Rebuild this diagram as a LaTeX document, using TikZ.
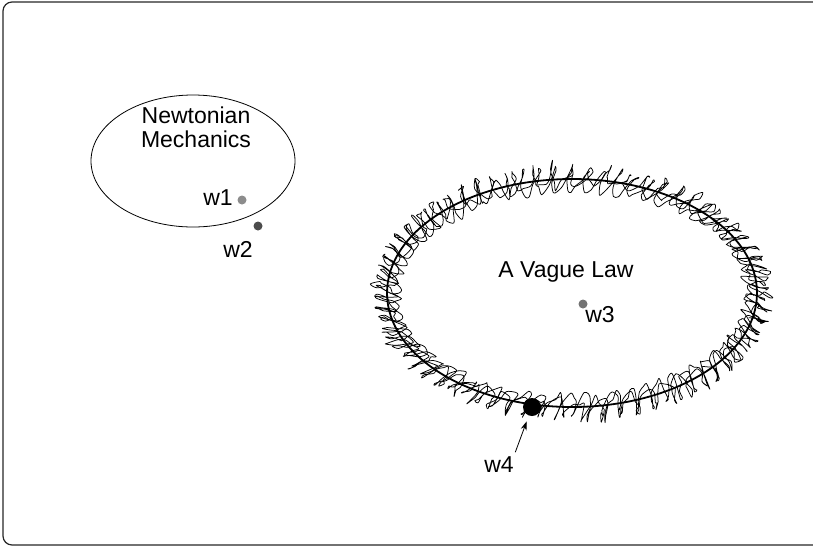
\documentclass[tikz,border=0pt]{standalone}
\usepackage{fontspec}
\setmainfont{Liberation Sans}
\usetikzlibrary{arrows.meta}

\begin{document}
\begin{tikzpicture}[x=1pt,y=-1pt,
    dot/.style={circle,inner sep=0,minimum size=9pt},
    lbl/.style={inner sep=0,anchor=base,font=\fontsize{23}{24}\selectfont},
    scribble/.style={line width=0.75pt,line join=round}]
  \def\cx {572}
  \def\cy {293}
  \def\rx {185}
  \def\ry {114}

  \useasboundingbox (0,0) rectangle (813,547);
  \draw[line width=1.2pt,black!85,rounded corners=9pt] (3,2) rectangle (822,545);

  % newtonian mechanics
  \draw[line width=0.8pt] (193,161) ellipse [x radius=102,y radius=66];
  \node[lbl,align=center] (newton) at (196,147) {Newtonian\\Mechanics};

  \node[dot,fill=black!45] (d1) at (242,200) {};
  \node[dot,fill=black!70] (d2) at (258,226) {};
  \node[lbl] (w1) at (218,205) {w1};
  \node[lbl] (w2) at (238,257) {w2};

  % the vague law and its scribbled boundary (\t in turns)
  \pgfmathsetseed{23}
  \draw[scribble] plot[smooth,domain=0:1,samples=600,variable=\t]
    ({\cx+(\rx+(12+4*rand)*sin(360*mod(74*\t,1))+2*rand)*cos(360*\t)-((3+2*rand)*cos(360*mod(74*\t,1))+5*sin(360*mod(74*\t,1)))*sin(360*\t)},
     {\cy+(\ry+(12+4*rand)*sin(360*mod(74*\t,1))+2*rand)*sin(360*\t)+((3+2*rand)*cos(360*mod(74*\t,1))+5*sin(360*mod(74*\t,1)))*cos(360*\t)});
  \draw[scribble] plot[smooth,domain=0.03:1.04,samples=520,variable=\t]
    ({\cx+(\rx+3+(10+5*rand)*sin(360*mod(63*\t,1)+50)+3*rand)*cos(360*\t)-((4+3*rand)*cos(360*mod(63*\t,1)+50)+3*sin(360*mod(63*\t,1)+50))*sin(360*\t)},
     {\cy+(\ry+3+(10+5*rand)*sin(360*mod(63*\t,1)+50)+3*rand)*sin(360*\t)+((4+3*rand)*cos(360*mod(63*\t,1)+50)+3*sin(360*mod(63*\t,1)+50))*cos(360*\t)});
  \draw[line width=1.8pt] (\cx,\cy) ellipse [x radius=\rx,y radius=\ry];
  \node[lbl] (vague) at (566,277) {A Vague Law};

  \node[dot,fill=black!55] (d3) at (583,304) {};
  \node[lbl] (w3) at (600,322) {w3};

  \node[dot,fill=black,minimum size=18pt] (d4) at (532,407) {};
  \node[lbl] (w4) at (499,472) {w4};
  \draw[-{Stealth[length=9pt,width=6pt]},line width=0.8pt,shorten <=4pt,shorten >=6pt]
    (w4.north east) -- (d4);

\end{tikzpicture}
\end{document}
